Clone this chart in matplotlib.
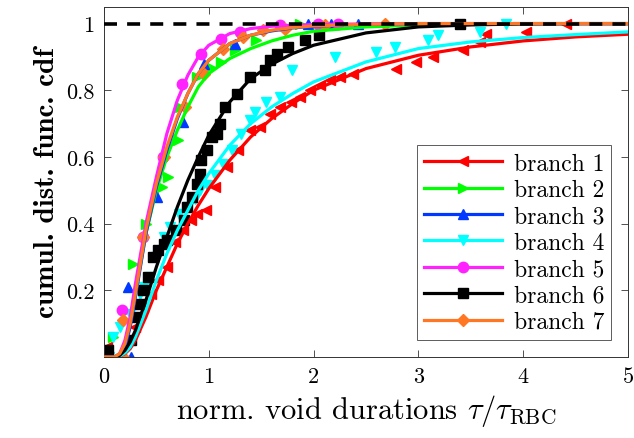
import matplotlib
matplotlib.use("Agg")
import matplotlib.pyplot as plt
from matplotlib.lines import Line2D

plt.rcParams['font.family'] = ['cmr10', 'DejaVu Serif']
plt.rcParams['mathtext.fontset'] = 'cm'
plt.rcParams['axes.formatter.use_mathtext'] = True

# ---------------- data ----------------
labels = ['branch 1', 'branch 2', 'branch 3', 'branch 4', 'branch 5', 'branch 6', 'branch 7']
colors = ['#ff0000', '#00ff00', '#0038ff', '#00ffff', '#ff22ff', '#000000', '#ff7722']
markers = ['<', '>', '^', 'v', 'o', 's', 'D']

# fitted CDF curves
fit_x = [0, 0.1, 0.15, 0.2, 0.25, 0.3, 0.4, 0.5, 0.6, 0.7, 0.8, 0.9, 1.0,
         1.2, 1.4, 1.6, 1.8, 2.0, 2.5, 3.0, 3.5, 4.0, 4.5, 5.0]
fit_1 = [0.0, 0.0, 0.003, 0.01, 0.025, 0.05, 0.12, 0.20, 0.27, 0.34, 0.40, 0.455, 0.505,
         0.59, 0.66, 0.715, 0.76, 0.80, 0.865, 0.905, 0.93, 0.948, 0.96, 0.968]
fit_2 = [0.0, 0.0, 0.01, 0.04, 0.10, 0.19, 0.37, 0.50, 0.60, 0.68, 0.75, 0.81, 0.85,
         0.895, 0.925, 0.948, 0.965, 0.977, 0.99, 0.996, 0.999, 1.0, 1.0, 1.0]
fit_3 = [0.0, 0.0, 0.005, 0.03, 0.09, 0.18, 0.37, 0.51, 0.62, 0.715, 0.79, 0.85, 0.89,
         0.94, 0.965, 0.978, 0.987, 0.992, 0.998, 1.0, 1.0, 1.0, 1.0, 1.0]
fit_4 = [0.0, 0.0, 0.003, 0.012, 0.03, 0.06, 0.14, 0.23, 0.31, 0.38, 0.44, 0.50, 0.55,
         0.635, 0.70, 0.75, 0.79, 0.825, 0.885, 0.925, 0.945, 0.958, 0.967, 0.975]
fit_5 = [0.0, 0.0, 0.01, 0.05, 0.12, 0.22, 0.40, 0.54, 0.67, 0.77, 0.845, 0.90, 0.935,
         0.97, 0.985, 0.992, 0.995, 0.997, 0.999, 1.0, 1.0, 1.0, 1.0, 1.0]
fit_6 = [0.0, 0.0, 0.005, 0.02, 0.045, 0.08, 0.17, 0.27, 0.36, 0.45, 0.53, 0.60, 0.665,
         0.765, 0.835, 0.878, 0.91, 0.935, 0.972, 0.99, 0.996, 0.999, 1.0, 1.0]
fit_7 = [0.0, 0.0, 0.01, 0.04, 0.10, 0.19, 0.38, 0.52, 0.63, 0.72, 0.79, 0.85, 0.89,
         0.94, 0.965, 0.98, 0.988, 0.993, 0.998, 1.0, 1.0, 1.0, 1.0, 1.0]

# empirical CDF markers
x_1 = [0.03, 0.30, 0.375, 0.45, 0.52, 0.60, 0.68, 0.75, 0.83, 0.89, 0.97, 1.06, 1.17, 1.28,
       1.39, 1.49, 1.58, 1.68, 1.78, 1.87, 1.97, 2.06, 2.16, 2.25, 2.38, 2.79, 2.98, 3.14,
       3.43, 3.59, 3.65, 4.03, 4.41]
y_1 = [0.03, 0.09, 0.15, 0.19, 0.23, 0.27, 0.345, 0.38, 0.41, 0.43, 0.44, 0.51, 0.57, 0.62,
       0.68, 0.69, 0.73, 0.75, 0.765, 0.78, 0.80, 0.815, 0.83, 0.84, 0.85, 0.865, 0.885, 0.90,
       0.92, 0.945, 0.97, 0.975, 1.0]
x_2 = [0.09, 0.28, 0.40, 0.55, 0.61, 0.71, 0.725, 0.885, 1.01, 1.12, 1.25, 1.45, 1.87]
y_2 = [0.06, 0.28, 0.40, 0.51, 0.54, 0.65, 0.75, 0.84, 0.87, 0.885, 0.92, 0.95, 1.0]
x_3 = [0.26, 0.23, 0.51, 0.75, 0.95, 1.25, 1.95, 2.17, 2.42]
y_3 = [0.0, 0.21, 0.48, 0.705, 0.88, 0.94, 1.0, 1.0, 1.0]
x_4 = [0.05, 0.09, 0.15, 0.25, 0.34, 0.38, 0.44, 0.50, 0.57, 0.63, 0.72, 0.80, 0.87, 0.92,
       0.98, 1.06, 1.14, 1.22, 1.31, 1.39, 1.44, 1.55, 1.68, 1.79, 2.20, 2.60, 2.78, 3.09,
       3.19, 3.59, 3.84]
y_4 = [0.0, 0.06, 0.09, 0.13, 0.19, 0.21, 0.24, 0.30, 0.36, 0.39, 0.43, 0.45, 0.475, 0.50,
       0.515, 0.545, 0.58, 0.62, 0.67, 0.71, 0.735, 0.765, 0.78, 0.86, 0.90, 0.915, 0.93, 0.95,
       0.965, 0.975, 1.0]
x_5 = [0.02, 0.17, 0.37, 0.56, 0.74, 0.93, 1.12, 1.30, 1.68, 2.04, 2.23]
y_5 = [0.005, 0.14, 0.36, 0.60, 0.82, 0.91, 0.955, 0.975, 0.995, 1.0, 1.0]
x_6 = [0.025, 0.04, 0.26, 0.31, 0.34, 0.375, 0.42, 0.47, 0.52, 0.57, 0.60, 0.69, 0.76, 0.79,
       0.84, 0.885, 0.92, 0.93, 0.98, 1.03, 1.075, 1.11, 1.155, 1.27, 1.39, 1.54, 1.58, 1.65,
       1.76, 1.92, 2.05, 3.40]
y_6 = [0.0, 0.02, 0.05, 0.12, 0.16, 0.20, 0.24, 0.30, 0.32, 0.34, 0.35, 0.38, 0.41, 0.45,
       0.48, 0.52, 0.55, 0.59, 0.62, 0.66, 0.67, 0.70, 0.75, 0.79, 0.84, 0.86, 0.89, 0.91,
       0.93, 0.95, 0.965, 1.0]
x_7 = [0.18, 0.18, 0.37, 0.57, 0.77, 0.95, 1.14, 1.33, 1.52, 1.73, 2.11, 2.68]
y_7 = [0.0, 0.11, 0.36, 0.60, 0.75, 0.85, 0.925, 0.96, 0.98, 0.985, 0.995, 1.0]

fits = [fit_1, fit_2, fit_3, fit_4, fit_5, fit_6, fit_7]
xs = [x_1, x_2, x_3, x_4, x_5, x_6, x_7]
ys = [y_1, y_2, y_3, y_4, y_5, y_6, y_7]

x_ticks = [0, 1, 2, 3, 4, 5]
y_ticks = [0.2, 0.4, 0.6, 0.8, 1.0]
y_ticklabels = ['0.2', '0.4', '0.6', '0.8', '1']

# ---------------- plot ----------------
fig = plt.figure(figsize=(6.34, 4.39), dpi=100)
ax = fig.add_axes([0.164, 0.1845, 0.8265, 0.7975])

ms = 7.5
for i in range(7):
    ax.plot(xs[i], ys[i], linestyle='none', marker=markers[i], color=colors[i],
            markersize=ms if markers[i] != 'D' else 6.5, zorder=2)
for i in range(7):
    ax.plot(fit_x, fits[i], color=colors[i], lw=2.3, zorder=3)

ax.axhline(1.0, color='black', lw=2.6, dashes=(3.6, 2.8), zorder=5)

ax.set_xlim(0, 5)
ax.set_ylim(0, 1.05)
ax.set_xticks(x_ticks)
ax.set_xticklabels([str(t) for t in x_ticks])
ax.set_yticks(y_ticks)
ax.set_yticklabels(y_ticklabels)
ax.tick_params(direction='in', top=True, right=True, labelsize=16, length=5,
               width=0.6, color='#333333', pad=7)
for s in ax.spines.values():
    s.set_linewidth(0.7)
    s.set_color('#333333')

ax.set_xlabel(r'norm. void durations $\tau/\tau_{\mathrm{RBC}}$', fontsize=22, labelpad=4)
ax.set_ylabel('cumul. dist. func. cdf', fontsize=21, family=['cmb10', 'DejaVu Serif'],
              labelpad=4)

handles = [Line2D([0], [0], color=colors[i], lw=2.3, marker=markers[i],
                  markersize=ms if markers[i] != 'D' else 6.5) for i in range(7)]
leg = ax.legend(handles, labels, loc='lower right', bbox_to_anchor=(0.968, 0.049),
                fontsize=17, frameon=True, fancybox=False, edgecolor='#333333',
                handlelength=3.3, labelspacing=0.18, borderpad=0.3, handletextpad=0.5,
                borderaxespad=0)
leg.get_frame().set_linewidth(0.7)

fig.savefig('out.png', dpi=100)
